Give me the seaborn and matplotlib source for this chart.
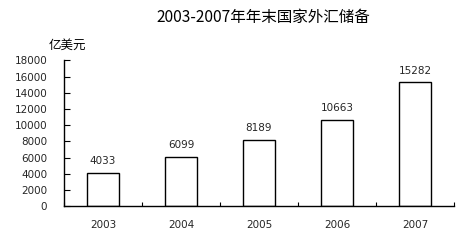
import matplotlib
matplotlib.use("Agg")
import matplotlib.pyplot as plt
import seaborn as sns
import pandas as pd
import numpy as np

years = ["2003", "2004", "2005", "2006", "2007"]
reserves = [4033, 6099, 8189, 10663, 15282]
y_ticks = [0, 2000, 4000, 6000, 8000, 10000, 12000, 14000, 16000, 18000]

sns.set_theme(style="white")
plt.rcParams['font.family'] = ['Noto Sans CJK SC', 'DejaVu Sans']

df = pd.DataFrame({"year": years, "value": reserves})

fig = plt.figure(figsize=(4.76, 2.45), dpi=100)
ax = fig.add_axes([64/476, (245-206)/245, (454-64)/476, (206-60.5)/245])

sns.barplot(data=df, x="year", y="value", ax=ax, color="white",
            edgecolor="black", linewidth=1.0, width=0.4, saturation=1)

ax.set_xlim(-0.5, 4.5)
ax.set_ylim(0, 18000)
ax.set_yticks(y_ticks)
ax.set_yticklabels([str(t) for t in y_ticks], fontsize=7.5, family=['DejaVu Sans'])
ax.set_xticks(range(len(years)))
ax.set_xticklabels(years, fontsize=7.5, family=['DejaVu Sans'])
ax.set_xticks(np.arange(-0.5, 5, 1.0), minor=True)
ax.tick_params(axis="x", which="major", length=0, pad=10)
ax.tick_params(axis="x", which="minor", direction="in", length=3, width=0.8, color="black", bottom=True)
ax.tick_params(axis="y", which="major", direction="in", length=4, width=0.8, color="black", pad=12, left=True)
ax.set_xlabel("")
ax.set_ylabel("")
for s in ["top", "right"]:
    ax.spines[s].set_visible(False)
for s in ["left", "bottom"]:
    ax.spines[s].set_color("black")
    ax.spines[s].set_linewidth(1.0)

for i, v in enumerate(reserves):
    ax.annotate(str(v), (i, v), xytext=(0, 5), textcoords="offset points",
                ha="center", va="bottom", fontsize=7.5, family=['DejaVu Sans'])

fig.text(263/476, 1 - 17/245, "2003-2007年年末国家外汇储备", ha="center", va="center",
         fontsize=11.2, color="black")
fig.text(67/476, 1 - 45/245, "亿美元", ha="center", va="center", fontsize=9, color="black")

fig.savefig("out.png", dpi=100, facecolor="white")
